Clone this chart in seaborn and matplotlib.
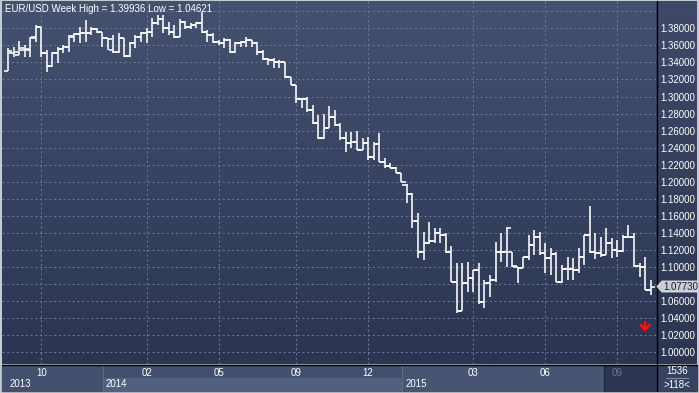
import numpy as np
import seaborn as sns
import matplotlib
matplotlib.use("Agg")
import matplotlib.pyplot as plt
from matplotlib.patches import Rectangle, Polygon

# ---------------- data ----------------
title_text = "EUR/USD Week High = 1.39936 Low = 1.04621"
opens = [1.330, 1.3515, 1.3487, 1.3546, 1.3546, 1.3694, 1.3812, 1.3507, 1.3358, 1.3507,
         1.3554, 1.3585, 1.3710, 1.3730, 1.3741, 1.3749, 1.3788, 1.3761, 1.3683, 1.3546,
         1.3526, 1.3683, 1.3476, 1.3624, 1.3694, 1.3741, 1.3761, 1.3859, 1.3906, 1.3800,
         1.3761, 1.3702, 1.3878, 1.3820, 1.3839, 1.3866, 1.3761, 1.3722, 1.3644, 1.3624,
         1.3663, 1.3526, 1.3624, 1.3644, 1.3663, 1.3624, 1.3526, 1.3437, 1.3429, 1.3409,
         1.3409, 1.3233, 1.3136, 1.2968, 1.2968, 1.2843, 1.2686, 1.2510, 1.2628, 1.2765,
         1.2667, 1.2510, 1.2452, 1.2471, 1.2374, 1.2452, 1.2288, 1.2443, 1.2237, 1.2186,
         1.2159, 1.2108, 1.1963, 1.1857, 1.1544, 1.1180, 1.1280, 1.1311, 1.1397, 1.1377,
         1.1182, 1.0830, 1.0491, 1.0811, 1.0869, 1.0967, 1.0596, 1.0819, 1.0850, 1.1182,
         1.1182, 1.1182, 1.1006, 1.0994, 1.1115, 1.1260, 1.1358, 1.1162, 1.1104, 1.1154,
         1.0830, 1.0975, 1.0975, 1.0967, 1.1115, 1.1377, 1.1182, 1.1162, 1.1143, 1.1287,
         1.1201, 1.1194, 1.1350, 1.1358, 1.1018, 1.1006, 1.0733]
highs = [1.357, 1.3585, 1.3655, 1.3605, 1.3694, 1.3839, 1.3820, 1.3546, 1.3526, 1.3585,
         1.3605, 1.3722, 1.3741, 1.3820, 1.3898, 1.3820, 1.3800, 1.3761, 1.3683, 1.3722,
         1.3741, 1.3683, 1.3644, 1.3722, 1.3761, 1.3800, 1.3917, 1.3956, 1.3956, 1.3878,
         1.3839, 1.3906, 1.3886, 1.3859, 1.3878, 1.39936, 1.3780, 1.3741, 1.3663, 1.3683,
         1.3671, 1.3644, 1.3655, 1.3694, 1.3663, 1.3644, 1.3546, 1.3448, 1.3448, 1.3429,
         1.3409, 1.3233, 1.3136, 1.2979, 1.2999, 1.2901, 1.2784, 1.2796, 1.2889, 1.2842,
         1.2687, 1.2588, 1.2588, 1.2600, 1.2510, 1.2522, 1.2470, 1.2569, 1.2276, 1.2217,
         1.2178, 1.2108, 1.1975, 1.1866, 1.1630, 1.1416, 1.1533, 1.1455, 1.1455, 1.1397,
         1.1248, 1.1045, 1.1045, 1.1065, 1.0967, 1.1045, 1.0850, 1.0908, 1.1299, 1.1397,
         1.1467, 1.1182, 1.1006, 1.1123, 1.1377, 1.1436, 1.1416, 1.1280, 1.1221, 1.1182,
         1.1026, 1.1123, 1.1104, 1.1221, 1.1377, 1.1717, 1.1397, 1.1358, 1.1455, 1.1338,
         1.1319, 1.1377, 1.1494, 1.1397, 1.1053, 1.1115, 1.0849]
lows = [1.330, 1.3460, 1.3487, 1.3468, 1.3468, 1.3644, 1.3468, 1.3292, 1.3351, 1.3390,
        1.3507, 1.3526, 1.3644, 1.3624, 1.3644, 1.3722, 1.3741, 1.3585, 1.3546, 1.3507,
        1.3507, 1.3468, 1.3468, 1.3566, 1.3644, 1.3632, 1.3702, 1.3839, 1.3741, 1.3722,
        1.3683, 1.3694, 1.3788, 1.3788, 1.3800, 1.3741, 1.3644, 1.3624, 1.3605, 1.3566,
        1.3507, 1.3507, 1.3585, 1.3585, 1.3585, 1.3487, 1.3429, 1.3370, 1.3331, 1.3331,
        1.3214, 1.3136, 1.2921, 1.2862, 1.2823, 1.2678, 1.2499, 1.2499, 1.2628, 1.2655,
        1.2491, 1.2354, 1.2393, 1.2374, 1.2374, 1.2256, 1.2260, 1.2237, 1.2159, 1.2159,
        1.2100, 1.2002, 1.1748, 1.1455, 1.1110, 1.1084, 1.1270, 1.1280, 1.1280, 1.1170,
        1.0830, 1.04621, 1.0491, 1.0713, 1.0713, 1.0569, 1.0518, 1.0655, 1.0830, 1.1065,
        1.1006, 1.1006, 1.0819, 1.0986, 1.1084, 1.1143, 1.1143, 1.0928, 1.0908, 1.0830,
        1.0811, 1.0850, 1.0850, 1.0928, 1.1026, 1.1162, 1.1092, 1.1123, 1.1143, 1.1104,
        1.1123, 1.1182, 1.1338, 1.1006, 1.0889, 1.0733, 1.0673]
closes = [1.353, 1.3526, 1.3566, 1.3554, 1.3683, 1.3812, 1.3507, 1.3358, 1.3507, 1.3554,
          1.3585, 1.3702, 1.3730, 1.3741, 1.3749, 1.3788, 1.3761, 1.3683, 1.3671, 1.3526,
          1.3683, 1.3476, 1.3624, 1.3694, 1.3741, 1.3761, 1.3859, 1.3906, 1.3800, 1.3761,
          1.3702, 1.3878, 1.3820, 1.3839, 1.3866, 1.3761, 1.3722, 1.3644, 1.3624, 1.3663,
          1.3526, 1.3624, 1.3644, 1.3663, 1.3624, 1.3526, 1.3437, 1.3429, 1.3409, 1.3409,
          1.3233, 1.3136, 1.2968, 1.2968, 1.2843, 1.2686, 1.2510, 1.2628, 1.2765, 1.2667,
          1.2510, 1.2452, 1.2471, 1.2374, 1.2452, 1.2288, 1.2443, 1.2237, 1.2186, 1.2159,
          1.2108, 1.2002, 1.1857, 1.1544, 1.1180, 1.1280, 1.1311, 1.1397, 1.1377, 1.1182,
          1.0830, 1.0491, 1.0811, 1.0869, 1.0967, 1.0596, 1.0819, 1.0850, 1.1182, 1.1182,
          1.1455, 1.1018, 1.0994, 1.1115, 1.1260, 1.1358, 1.1162, 1.1104, 1.1154, 1.0830,
          1.0975, 1.0975, 1.0967, 1.1115, 1.1377, 1.1182, 1.1162, 1.1143, 1.1287, 1.1201,
          1.1194, 1.1350, 1.1358, 1.1018, 1.1006, 1.0733, 1.0773]
month_pos = [6, 25, 38, 52, 65, 84, 97, 110]
month_labels = ["10", "02", "05", "09", "12", "03", "06", "09"]
year_labels = ["2013", "2014", "2015"]
price_ticks = [1.00, 1.02, 1.04, 1.06, 1.08, 1.10, 1.12, 1.14, 1.16, 1.18,
               1.20, 1.22, 1.24, 1.26, 1.28, 1.30, 1.32, 1.34, 1.36, 1.38]
grid_prices = price_ticks + [1.40]
last_price = 1.07730
signal_pos = 115
signal_price = 1.030
bar_count_text = "1536"
zoom_text = ">118<"

# ---------------- style ----------------
sns.set_theme(style="dark")
plt.rcParams['font.family'] = ['Liberation Sans', 'DejaVu Sans']

W, H = 699, 393
fig = plt.figure(figsize=(W / 100, H / 100), dpi=100)
fig.patch.set_facecolor('#c6cad1')

# background / panel layer in pixel coordinates
bg = fig.add_axes([0, 0, 1, 1])
bg.set_xlim(0, W)
bg.set_ylim(H, 0)
bg.axis('off')

def grad(top, bottom, n=256):
    t = np.linspace(0, 1, n)[:, None]
    a = np.array(matplotlib.colors.to_rgb(top))
    b = np.array(matplotlib.colors.to_rgb(bottom))
    return (a * (1 - t) + b * t)[:, None, :].repeat(2, axis=1)

bg.imshow(grad('#3d4967', '#2c3652'), extent=(656, 697, 364, 1), aspect='auto', zorder=0)
# bottom bar sections
bg.add_patch(Rectangle((2, 365), 101, 26, color='#44516e', zorder=1))
bg.add_patch(Rectangle((103, 365), 299, 13, color='#43506d', zorder=1))
bg.add_patch(Rectangle((103, 378), 299, 13, color='#52607f', zorder=1))
bg.add_patch(Rectangle((402, 365), 202, 26, color='#475573', zorder=1))
bg.add_patch(Rectangle((604, 365), 52, 26, color='#2b3550', zorder=1))
bg.add_patch(Rectangle((657, 365), 40, 26, color='#36425f', zorder=1))
bg.plot([102.5, 102.5], [365, 391], color='#5d6b8a', lw=0.8, zorder=2)
bg.plot([401.5, 401.5], [365, 391], color='#5d6b8a', lw=0.8, zorder=2)
bg.plot([603.5, 603.5], [365, 391], color='#1f273c', lw=0.8, zorder=2)
bg.plot([656.5, 656.5], [1, 391], color='black', lw=1.0, zorder=3)
bg.plot([2, 697], [364.5, 364.5], color='black', lw=1.0, zorder=3)
bg.plot([666, 688], [378, 378], color='#7d8aa5', lw=0.8, zorder=2)

txt = dict(color='white', fontsize=7, va='center', zorder=4)
bg.text(10, 384, year_labels[0], ha='left', **txt)
bg.text(106, 384, year_labels[1], ha='left', **txt)
bg.text(406, 384, year_labels[2], ha='left', **txt)
bg.text(677, 371.5, bar_count_text, ha='center', **txt)
bg.text(677, 384.5, zoom_text, ha='center', **txt)

# ---------------- main price panel ----------------
px0, px1, py0, py1 = 2, 656, 1, 364
ax = fig.add_axes([px0 / W, (H - py1) / H, (px1 - px0) / W, (py1 - py0) / H])
bar_px0, bar_dx = 8.0, 5.54
ppu = 853.0
x_lo = (px0 - bar_px0) / bar_dx
x_hi = (px1 - bar_px0) / bar_dx
y_hi = 1.38 + (28.3 - py0) / ppu
y_lo = 1.38 - (py1 - 28.3) / ppu
ax.set_xlim(x_lo, x_hi)
ax.set_ylim(y_lo, y_hi)
ax.imshow(grad('#44516f', '#2b3552'), extent=(x_lo, x_hi, y_lo, y_hi),
          aspect='auto', zorder=0, origin='upper')

gkw = dict(color='#66759a', lw=0.75, linestyles=(0, (2, 2.5)), zorder=1)
ax.hlines(grid_prices, x_lo, x_hi, **gkw)
ax.vlines(month_pos, y_lo, y_hi, **gkw)

xs = np.arange(len(closes))
bkw = dict(color='white', lw=1.15, zorder=3)
ax.vlines(xs, lows, highs, **bkw)
ax.hlines(opens, xs - 0.8, xs, **bkw)
ax.hlines(closes, xs, xs + 0.8, **bkw)

ax.annotate("", xy=(signal_pos, signal_price - 0.0058), xytext=(signal_pos, signal_price + 0.0052),
            arrowprops=dict(arrowstyle="->,head_length=0.45,head_width=0.4", color='#ff1010',
                            lw=1.8, mutation_scale=8, shrinkA=0, shrinkB=0), zorder=4)

ax.text(0.004, 1 - 7.5 / (py1 - py0), title_text, transform=ax.transAxes, color='white',
        fontsize=7, ha='left', va='center', zorder=5)

ax.yaxis.tick_right()
ax.set_yticks(price_ticks)
# the label hidden behind the last-price marker is left blank, as in the reference
ax.set_yticklabels(["" if abs(v - last_price) < 0.006 else f"{v:.5f}" for v in price_ticks])
ax.tick_params(axis='y', length=0, pad=3, labelsize=7, labelcolor='white')
ax.set_xticks(month_pos)
ax.set_xticklabels(month_labels)
ax.tick_params(axis='x', length=0, pad=3, labelsize=7, labelcolor='white')
ax.get_xticklabels()[-1].set_color('#6d7893')
for s in ax.spines.values():
    s.set_visible(False)
ax.grid(False)

# ---------------- overlay: last price marker ----------------
ov = fig.add_axes([0, 0, 1, 1])
ov.set_xlim(0, W)
ov.set_ylim(H, 0)
ov.axis('off')
ov.patch.set_alpha(0)
ly = 28.3 + (1.38 - last_price) * ppu
ov.add_patch(Polygon([(657, ly), (662, ly - 5.5), (697, ly - 5.5), (697, ly + 5.5), (662, ly + 5.5)],
                     closed=True, facecolor='#c9cdd6', edgecolor='#e6e9ef', lw=0.6))
ov.text(663.5, ly + 0.3, f"{last_price:.5f}", color='#1c1c24', fontsize=7, ha='left', va='center')

fig.savefig("out.png", dpi=100, facecolor=fig.get_facecolor())
